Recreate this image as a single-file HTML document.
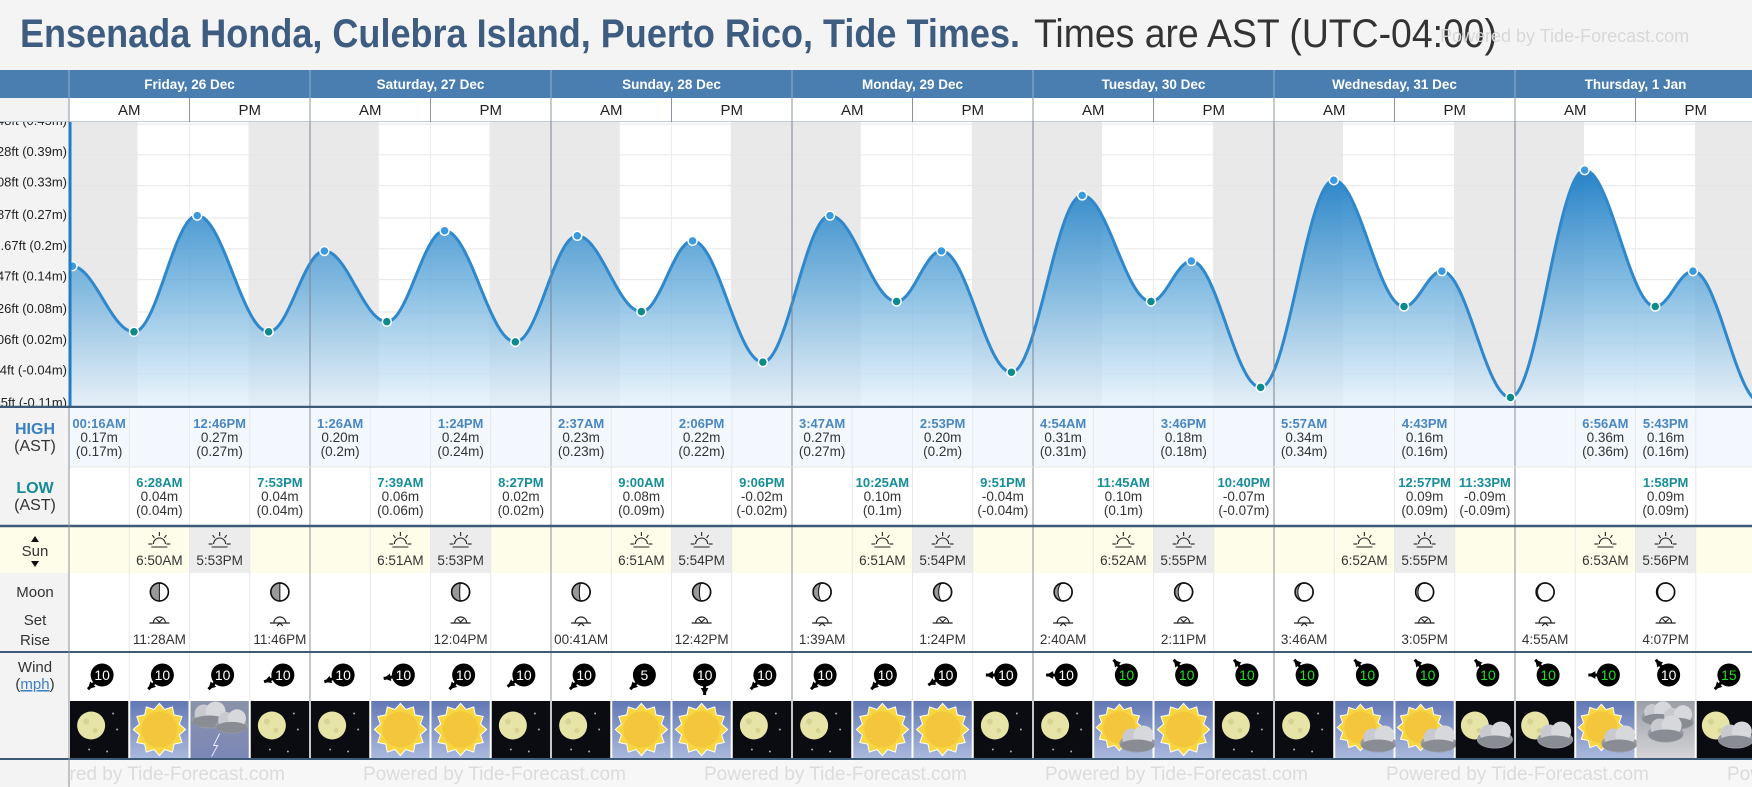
<!DOCTYPE html>
<html><head><meta charset="utf-8"><title>Ensenada Honda Tide Times</title>
<style>
html,body{margin:0;padding:0;background:#f4f4f4;overflow:hidden}
svg{display:block;font-family:"Liberation Sans",Arial,sans-serif}
</style></head>
<body>
<svg id="chart" width="1752" height="787" viewBox="0 0 1752 787" xmlns="http://www.w3.org/2000/svg">
<defs>
<linearGradient id="areaGrad" x1="0" y1="0" x2="0" y2="1">
<stop offset="0" stop-color="#1b7cc4" stop-opacity="0.95"/>
<stop offset="0.5" stop-color="#6aaedc" stop-opacity="0.8"/>
<stop offset="1" stop-color="#e4f1fb" stop-opacity="0.75"/>
</linearGradient>
<linearGradient id="dayGrad" x1="0" y1="0" x2="0" y2="1">
<stop offset="0" stop-color="#6278b4"/><stop offset="1" stop-color="#aab8dc"/>
</linearGradient>
<linearGradient id="stormGrad" x1="0" y1="0" x2="0" y2="1">
<stop offset="0" stop-color="#8a93a8"/><stop offset="1" stop-color="#7c87b8"/>
</linearGradient>
<linearGradient id="ovGrad" x1="0" y1="0" x2="0" y2="1">
<stop offset="0" stop-color="#9a9ea6"/><stop offset="1" stop-color="#d4d4d6"/>
</linearGradient>
<clipPath id="plotClip"><rect x="69" y="122" width="1683" height="284"/></clipPath>
<clipPath id="labelClip"><rect x="0" y="122" width="69" height="284"/></clipPath>
<clipPath id="footClip"><rect x="69" y="759" width="1683" height="28"/></clipPath>
</defs>
<rect x="0" y="0" width="1752" height="787" fill="#f4f4f4"/>
<text x="20" y="47" font-size="40" font-weight="bold" fill="#3d5c80" textLength="1000" lengthAdjust="spacingAndGlyphs">Ensenada Honda, Culebra Island, Puerto Rico, Tide Times.</text>
<text x="1034" y="47" font-size="40" fill="#333" textLength="463" lengthAdjust="spacingAndGlyphs">Times are AST (UTC-04:00)</text>
<text x="1440" y="42" font-size="18" fill="#d8d8d8">Powered by Tide-Forecast.com</text>
<g id="layer"></g>
</svg>
<script>
// ---- data ----
const dayLabels = ["Friday, 26 Dec","Saturday, 27 Dec","Sunday, 28 Dec","Monday, 29 Dec","Tuesday, 30 Dec","Wednesday, 31 Dec","Thursday, 1 Jan"];
const tideHours = [-6,0.27,6.47,12.77,19.88,25.43,31.65,37.4,44.45,50.62,57,62.1,69.1,75.78,82.42,86.88,93.85,100.9,107.75,111.77,118.67,125.95,132.95,136.72,143.55,150.93,157.97,161.72,168.5];
const tideHeights = [0.02,0.17,0.04,0.27,0.04,0.20,0.06,0.24,0.02,0.23,0.08,0.22,-0.02,0.27,0.10,0.20,-0.04,0.31,0.10,0.18,-0.07,0.34,0.09,0.16,-0.09,0.36,0.09,0.16,-0.10];
const tickFt = [1.48,1.28,1.08,0.87,0.67,0.47,0.26,0.06,-0.14,-0.35];
const tickM = ["0.45","0.39","0.33","0.27","0.2","0.14","0.08","0.02","-0.04","-0.11"];
const highDay = [0,0,1,1,2,2,3,3,4,4,5,5,6,6];
const highCol = [0,2,0,2,0,2,0,2,0,2,0,2,1,2];
const highTime = ["00:16AM","12:46PM","1:26AM","1:24PM","2:37AM","2:06PM","3:47AM","2:53PM","4:54AM","3:46PM","5:57AM","4:43PM","6:56AM","5:43PM"];
const highVal = ["0.17","0.27","0.20","0.24","0.23","0.22","0.27","0.20","0.31","0.18","0.34","0.16","0.36","0.16"];
const highPar = ["0.17","0.27","0.2","0.24","0.23","0.22","0.27","0.2","0.31","0.18","0.34","0.16","0.36","0.16"];
const lowDay = [0,0,1,1,2,2,3,3,4,4,5,5,6];
const lowCol = [1,3,1,3,1,3,1,3,1,3,2,3,2];
const lowTime = ["6:28AM","7:53PM","7:39AM","8:27PM","9:00AM","9:06PM","10:25AM","9:51PM","11:45AM","10:40PM","12:57PM","11:33PM","1:58PM"];
const lowVal = ["0.04","0.04","0.06","0.02","0.08","-0.02","0.10","-0.04","0.10","-0.07","0.09","-0.09","0.09"];
const lowPar = ["0.04","0.04","0.06","0.02","0.09","-0.02","0.1","-0.04","0.1","-0.07","0.09","-0.09","0.09"];
const sunrise = ["6:50AM","6:51AM","6:51AM","6:51AM","6:52AM","6:52AM","6:53AM"];
const sunset = ["5:53PM","5:53PM","5:54PM","5:54PM","5:55PM","5:55PM","5:56PM"];
const sunriseH = [6.83,6.85,6.85,6.85,6.87,6.87,6.88];
const sunsetH = [17.88,17.88,17.9,17.9,17.92,17.92,17.93];
const moonDay = [0,0,1,2,2,3,3,4,4,5,5,6,6];
const moonCol = [1,3,2,0,2,0,2,0,2,0,2,0,2];
const moonTime = ["11:28AM","11:46PM","12:04PM","00:41AM","12:42PM","1:39AM","1:24PM","2:40AM","2:11PM","3:46AM","3:05PM","4:55AM","4:07PM"];
const moonSet = [1,0,1,0,1,0,1,0,1,0,1,0,1];
const moonPhase = [0.5,0.5,0.45,0.4,0.38,0.3,0.28,0.22,0.2,0.15,0.13,0.08,0.06];
const windSpeed = [10,10,10,10, 10,10,10,10, 10,5,10,10, 10,10,10,10, 10,10,10,10, 10,10,10,10, 10,10,10,15];
const windDir = [135,135,135,160, 160,170,135,145, 135,135,90,135, 135,135,150,180, 180,230,230,230, 230,230,230,230, 230,180,230,135];
const windGreen = [0,0,0,0, 0,0,0,0, 0,0,0,0, 0,0,0,0, 0,1,1,1, 1,1,1,1, 1,1,0,1];
const weather = ["night","sun","storm","night", "night","sun","sun","night", "night","sun","sun","night", "night","sun","sun","night", "night","suncloud","sun","night", "night","suncloud","suncloud","nightcloud", "nightcloud","suncloud","overcast","nightcloud"];

// ---- axes ----
const NS="http://www.w3.org/2000/svg";
const X0=69, DAYW=241, COLW=DAYW/4;
const Y0=352, PXFT=154, PXM=PXFT*3.28084;
const xH = h => X0 + h*DAYW/24;
const yM = m => Y0 - m*PXM;
const yFt = f => Y0 - f*PXFT;
const colX = (d,c) => X0 + d*DAYW + c*COLW;
const L = document.getElementById('layer');
function mk(tag, attrs, parent, txt){
  const e=document.createElementNS(NS,tag);
  for(const k in attrs) e.setAttribute(k,attrs[k]);
  if(txt!==undefined) e.textContent=txt;
  (parent||L).appendChild(e); return e;
}
let el;

// header
el = mk('rect',{x:0,y:70,width:1752,height:28,fill:'#4a7eb1'});


el = mk('rect',{x:0,y:98,width:1752,height:24,fill:'#fff'});


el = mk('rect',{x:0,y:98,width:69,height:24,fill:'#f3f3f3'});


el = mk('line',{x1:0,y1:122,x2:1752,y2:122,stroke:'#8a95a3','stroke-width':1});


dayLabels.forEach((lab,d)=>{
  const x=colX(d,0);
  el = mk('text',{x:x+DAYW/2,y:89,'text-anchor':'middle','font-size':13.5,'font-weight':'bold',fill:'#fff'},L,lab);
  
  
  el = mk('line',{x1:x,y1:70,x2:x,y2:98,stroke:'#8fb0d0','stroke-width':1});
  
  
  ['AM','PM'].forEach((t,i)=>{
    el = mk('text',{x:x+DAYW/4+i*DAYW/2,y:115,'text-anchor':'middle','font-size':15,fill:'#222'},L,t);
    
    
  });
  el = mk('line',{x1:x+DAYW/2,y1:98,x2:x+DAYW/2,y2:122,stroke:'#8a95a3','stroke-width':1});
  
  
  el = mk('line',{x1:x,y1:98,x2:x,y2:122,stroke:'#8a95a3','stroke-width':1});
  
  
});

// plot area
el = mk('rect',{x:0,y:122,width:69,height:284,fill:'#f3f3f3'});


el = mk('rect',{x:69,y:122,width:1683,height:284,fill:'#fff'});


const plotG = mk('g',{'clip-path':'url(#plotClip)'});


dayLabels.forEach((lab,d)=>{
  el = mk('rect',{x:xH(d*24),y:122,width:xH(sunriseH[d])-xH(0),height:284,fill:'#e9e9e9'},plotG);
  
  
  el = mk('rect',{x:xH(d*24+sunsetH[d]),y:122,width:xH(24-sunsetH[d])-xH(0),height:284,fill:'#e9e9e9'},plotG);
  
  
});
tickFt.forEach((f,i)=>{
  el = mk('line',{x1:69,y1:yFt(f),x2:1752,y2:yFt(f),stroke:'#e6e6e6','stroke-width':1},plotG);
  
  
});
dayLabels.forEach((lab,d)=>{
  el = mk('line',{x1:xH(d*24+12),y1:122,x2:xH(d*24+12),y2:406,stroke:'#ececec','stroke-width':1},plotG);
  
  
});
// tide curve (cosine interpolation between extremes)
function tideAt(h){
  for(let i=0;i<tideHours.length-1;i++){
    if(h>=tideHours[i] && h<=tideHours[i+1]){
      const t=(h-tideHours[i])/(tideHours[i+1]-tideHours[i]);
      const a=tideHeights[i], b=tideHeights[i+1];
      return a+(b-a)*(1-Math.cos(Math.PI*t))/2;
    }
  }
  return tideHeights[tideHeights.length-1];
}
let pts=[];
for(let x=69;x<=1754;x+=2){ const h=(x-X0)*24/DAYW; pts.push([x,yM(tideAt(h))]); }
let dLine='M'+pts.map(p=>p[0]+','+p[1].toFixed(1)).join(' L');
el = mk('path',{d:dLine+' L1754,406 L69,406 Z',fill:'url(#areaGrad)'},plotG);


el = mk('path',{d:dLine,fill:'none',stroke:'#2f88cc','stroke-width':3},plotG);


dayLabels.forEach((lab,d)=>{
  if(d===0) return;
  el = mk('line',{x1:xH(d*24),y1:122,x2:xH(d*24),y2:406,stroke:'#7a8494','stroke-width':1},plotG);
  
  
});
for(let i=1;i<tideHours.length-1;i++){
  const isHigh = tideHeights[i]>tideHeights[i-1];
  el = mk('circle',{cx:xH(Math.max(tideHours[i],0.35)),cy:yM(tideHeights[i]),r:4.5,fill:isHigh?'#3a9ae0':'#0d8a8c',stroke:'#fff','stroke-width':1.5},plotG);
  
  
}
el = mk('line',{x1:70,y1:122,x2:70,y2:406,stroke:'#1f7cc4','stroke-width':3});


const labG = mk('g',{'clip-path':'url(#labelClip)'});


tickFt.forEach((f,i)=>{
  el = mk('text',{x:67,y:yFt(f)+1,'text-anchor':'end','font-size':13,fill:'#222'},labG,f.toFixed(2).replace(/^(-?)0\./,'$10.')+'ft ('+tickM[i]+'m)');
  
  
});
el = mk('line',{x1:0,y1:407,x2:1752,y2:407,stroke:'#3e5a78','stroke-width':2.5});



// table rows backgrounds
const rows=[[408,467,'#f2f8fd','high-row'],[467,526,'#ffffff','low-row'],[526,573,'#fdfde9','sun-row'],[573,652,'#ffffff','moon-row'],[652,700,'#ffffff','wind-row'],[700,759,'#ffffff','weather-row'],[759,787,'#f7f7f7','footer-row']];
rows.forEach(r=>{
  el = mk('rect',{x:69,y:r[0],width:1683,height:r[1]-r[0],fill:r[2]});
  
  
  el = mk('rect',{x:0,y:r[0],width:69,height:r[1]-r[0],fill:r[3]==='sun-row'?'#fdfde9':'#f3f3f3'});
  
  
});
dayLabels.forEach((lab,d)=>{
  el = mk('rect',{x:colX(d,2),y:526,width:COLW,height:47,fill:'#ececec'});
  
  
});
for(let d=0;d<7;d++) for(let c=1;c<4;c++){
  el = mk('line',{x1:colX(d,c),y1:408,x2:colX(d,c),y2:700,stroke:'#e8e8e8','stroke-width':1});
  
  
}
for(let d=0;d<7;d++){
  el = mk('line',{x1:colX(d,0),y1:408,x2:colX(d,0),y2:759,stroke:'#8a8f98','stroke-width':1});
  
  
}
el = mk('line',{x1:69,y1:467,x2:1752,y2:467,stroke:'#e6e6e6','stroke-width':1});


[[526,2.5],[652,2],[759,2]].forEach(s=>{
  el = mk('line',{x1:0,y1:s[0],x2:1752,y2:s[0],stroke:'#3e5a78','stroke-width':s[1]});
  
  
});
el = mk('line',{x1:69,y1:408,x2:69,y2:787,stroke:'#8a8f98','stroke-width':1});



// row labels
function lbl(x,y,t,opt){ return mk('text',Object.assign({x:x,y:y,'text-anchor':'middle','font-size':16,fill:'#333'},opt),L,t); }
el = lbl(35,434,'HIGH',{'font-weight':'bold',fill:'#3a80c2'});


el = lbl(35,451,'(AST)',{});


el = lbl(35,493,'LOW',{'font-weight':'bold',fill:'#138b98'});


el = lbl(35,510,'(AST)',{});


el = lbl(35,556,'Sun',{'font-size':15});


el = mk('path',{d:'M31,542 L39,542 L35,536 Z M31,561 L39,561 L35,567 Z',fill:'#111'});


el = lbl(35,597,'Moon',{'font-size':15});


el = lbl(35,625,'Set',{'font-size':15});


el = lbl(35,645,'Rise',{'font-size':15});


el = lbl(35,672,'Wind',{'font-size':15});


el = mk('text',{x:35,y:689,'text-anchor':'middle','font-size':15,fill:'#333'},L);


mk('tspan',{},el,'(');
const t2=mk('tspan',{fill:'#3b7ec2','text-decoration':'underline'},el,'mph');


mk('tspan',{},el,')');

// tide table
function tideCell(d,c,y,time,val,par,color,name){
  const cx=colX(d,c)+COLW/2;
  el = mk('text',{x:cx,y:y,'text-anchor':'middle','font-size':13,'font-weight':'bold',fill:color},L,time);
  
  
  el = mk('text',{x:cx,y:y+14,'text-anchor':'middle','font-size':13.5,fill:'#333'},L,val+'m');
  
  
  el = mk('text',{x:cx,y:y+28,'text-anchor':'middle','font-size':13.5,fill:'#333'},L,'('+par+'m)');
  
  
}
highDay.forEach((d,i)=>tideCell(d,highCol[i],428,highTime[i],highVal[i],highPar[i],'#4a87c2','high-tide'));
lowDay.forEach((d,i)=>tideCell(d,lowCol[i],487,lowTime[i],lowVal[i],lowPar[i],'#168d98','low-tide'));

// sun row
function sunIcon(cx,cy){
  const g=mk('g',{stroke:'#222','stroke-width':1.1,fill:'none'});
  mk('path',{d:`M${cx-6},${cy+3} A6,6 0 0 1 ${cx+6},${cy+3}`},g);
  mk('line',{x1:cx-11,y1:cy+3,x2:cx-7,y2:cy+3},g);mk('line',{x1:cx+7,y1:cy+3,x2:cx+11,y2:cy+3},g);
  mk('line',{x1:cx-8,y1:cy+6,x2:cx+8,y2:cy+6},g);
  mk('line',{x1:cx,y1:cy-9,x2:cx,y2:cy-5},g);
  mk('line',{x1:cx-7,y1:cy-6,x2:cx-5,y2:cy-3},g);mk('line',{x1:cx+7,y1:cy-6,x2:cx+5,y2:cy-3},g);
  return g;
}
dayLabels.forEach((lab,d)=>{
  [[1,sunrise[d],'sunrise'],[2,sunset[d],'sunset']].forEach(s=>{
    const cx=colX(d,s[0])+COLW/2;
    el = sunIcon(cx,541);
    
    
    el = mk('text',{x:cx,y:565,'text-anchor':'middle','font-size':13.5,fill:'#333'},L,s[1]);
    
    
  });
});

// moon row
moonDay.forEach((d,i)=>{
  const cx=colX(d,moonCol[i])+COLW/2, cy=592, r=9;
  const g=mk('g',{});
  
  
  mk('circle',{cx:cx,cy:cy,r:r,fill:'#fff',stroke:'#111','stroke-width':1.5},g);
  const f=moonPhase[i]; const rx=Math.max(Math.abs(1-2*f)*r,0.01);
  mk('path',{d:`M${cx},${cy-r} A${r},${r} 0 0 0 ${cx},${cy+r} A${rx},${r} 0 0 1 ${cx},${cy-r} Z`,fill:'#999',stroke:'#111','stroke-width':1},g);
  mk('circle',{cx:cx,cy:cy,r:r,fill:'none',stroke:'#111','stroke-width':1.5},g);
  const gi=mk('g',{stroke:'#222','stroke-width':1.2,fill:'none'});
  
  
  mk('path',{d:`M${cx-6},${cy+31} A6,6 0 0 1 ${cx+6},${cy+31}`},gi);
  mk('line',{x1:cx-10,y1:cy+31,x2:cx+10,y2:cy+31},gi);
  mk('path',{d:moonSet[i]?`M${cx-3},${cy+27} L${cx},${cy+30} L${cx+3},${cy+27}`:`M${cx-3},${cy+34} L${cx},${cy+31} L${cx+3},${cy+34}`},gi);
  el = mk('text',{x:cx,y:cy+52,'text-anchor':'middle','font-size':13.5,fill:'#333'},L,moonTime[i]);
  
  
});

// wind row
windSpeed.forEach((s,i)=>{
  const d=Math.floor(i/4), c=i%4;
  const cx=colX(d,c)+COLW/2+3, cy=675;
  const g=mk('g',{});
  
  
  const a=windDir[i]*Math.PI/180;
  const ex=cx+Math.cos(a)*20, ey=cy+Math.sin(a)*20;
  mk('line',{x1:cx,y1:cy,x2:ex,y2:ey,stroke:'#000','stroke-width':3},g);
  const hx1=ex-Math.cos(a-0.5)*8, hy1=ey-Math.sin(a-0.5)*8, hx2=ex-Math.cos(a+0.5)*8, hy2=ey-Math.sin(a+0.5)*8;
  mk('path',{d:`M${ex},${ey} L${hx1},${hy1} L${hx2},${hy2} Z`,fill:'#000'},g);
  mk('circle',{cx:cx,cy:cy,r:11.5,fill:'#000'},g);
  mk('text',{x:cx,y:cy+5,'text-anchor':'middle','font-size':14,fill:windGreen[i]?'#22dd22':'#fff'},g,String(s));
});

// weather icons
function moon(g,cx,cy,r){
  mk('circle',{cx:cx,cy:cy,r:r,fill:'#e6e4a6'},g);
  mk('circle',{cx:cx-5,cy:cy-4,r:3,fill:'#d6d494'},g);
  mk('circle',{cx:cx+4,cy:cy+5,r:2.5,fill:'#d6d494'},g);
}
function sun(g,cx,cy,r){
  let p='';
  for(let k=0;k<24;k++){const a=k*Math.PI/12, rr=k%2?r*1.15:r*1.45; p+=(k?'L':'M')+(cx+Math.cos(a)*rr).toFixed(1)+','+(cy+Math.sin(a)*rr).toFixed(1);}
  mk('path',{d:p+'Z',fill:'#f7d640',stroke:'#fff','stroke-width':1},g);
  mk('circle',{cx:cx,cy:cy,r:r,fill:'#f3c63c'},g);
}
function cloud(g,cx,cy,s,col){
  mk('ellipse',{cx:cx,cy:cy,rx:18*s,ry:9*s,fill:col||'#9a9ca4'},g);
  mk('circle',{cx:cx-6*s,cy:cy-6*s,r:9*s,fill:'#c8cad0'},g);
  mk('circle',{cx:cx+6*s,cy:cy-8*s,r:10*s,fill:'#d6d8dc'},g);
  mk('ellipse',{cx:cx,cy:cy+2*s,rx:17*s,ry:6*s,fill:'#8a8c94'},g);
}
weather.forEach((w,i)=>{
  const d=Math.floor(i/4), c=i%4;
  const x=colX(d,c)+1, y=701, wdt=COLW-2, h=57, cx=x+wdt/2, cy=y+h/2;
  const g=mk('g',{});
  
  
  const bg = (w==='night'||w==='nightcloud')?'#0b0b12':(w==='storm'?'url(#stormGrad)':(w==='overcast'?'url(#ovGrad)':'url(#dayGrad)'));
  mk('rect',{x:x,y:y,width:wdt,height:h,fill:bg},g);
  if(w==='night'){ moon(g,cx-8,cy-4,14); [[14,-16],[18,0],[-10,20],[8,22]].forEach(p=>mk('circle',{cx:cx+p[0],cy:cy+p[1],r:1,fill:'#aaa'},g)); }
  if(w==='nightcloud'){ moon(g,cx-10,cy-4,14); cloud(g,cx+10,cy+10,1); }
  if(w==='sun'){ sun(g,cx,cy,18); }
  if(w==='suncloud'){ sun(g,cx-4,cy-2,16); cloud(g,cx+14,cy+14,1); }
  if(w==='storm'){ cloud(g,cx-10,cy-10,1); cloud(g,cx+12,cy-4,0.9); mk('path',{d:`M${cx},${cy+4} L${cx-6},${cy+16} L${cx-2},${cy+16} L${cx-8},${cy+27}`,stroke:'#e8e8ff','stroke-width':1,fill:'none'},g); }
  if(w==='overcast'){ cloud(g,cx-8,cy-12,0.9); cloud(g,cx+12,cy-8,0.9); cloud(g,cx,cy+4,1); }
});

// footer
const fg=mk('g',{'clip-path':'url(#footClip)'});


for(let k=0;k<6;k++){
  el = mk('text',{x:22+341*k,y:780,'font-size':19,fill:'#dcdcdc'},fg,'Powered by Tide-Forecast.com');
  
  
}
</script>
</body></html>
